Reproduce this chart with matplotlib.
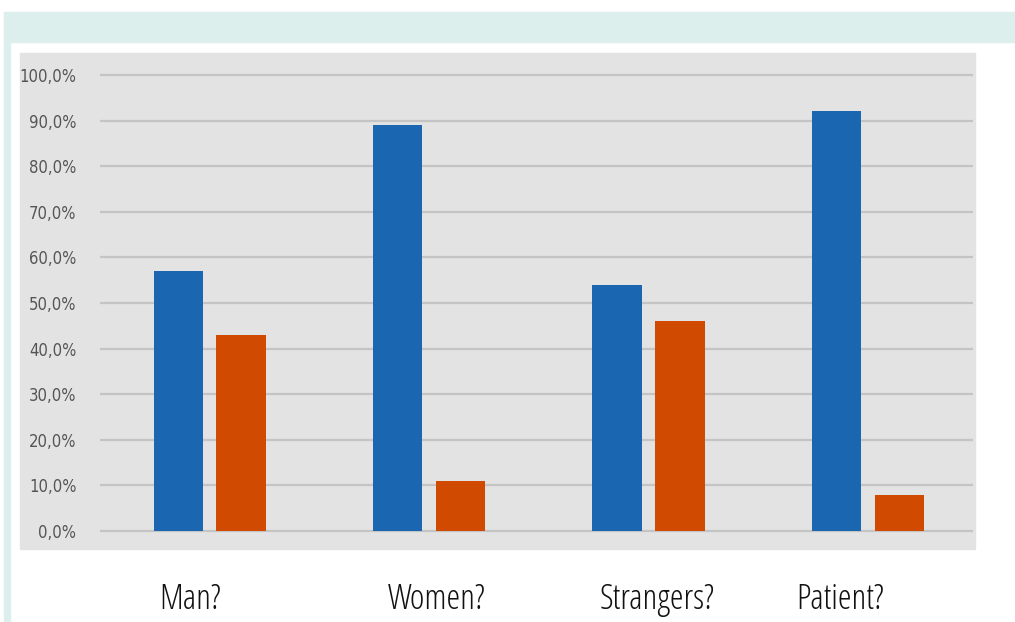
import matplotlib

matplotlib.use("Agg")

import matplotlib.pyplot as plt  # noqa: E402
from matplotlib.patches import Rectangle  # noqa: E402
import numpy as np  # noqa: E402

# data
categories = ["Man?", "Women?", "Strangers?", "Patient?"]
yes_pct = [57.1, 89.0, 54.0, 92.1]
no_pct = [42.9, 11.0, 46.0, 7.9]
y_ticks = [0, 10, 20, 30, 40, 50, 60, 70, 80, 90, 100]
y_tick_labels = [f"{v},0%" for v in y_ticks]

BLUE = "#1b66b1"
ORANGE = "#d04a02"
PANEL = "#e3e3e3"
TEAL = "#dcefed"
GRID = "#c4c4c4"

W, H = 1015, 622
plt.rcParams["font.family"] = ["DejaVu Sans"]

fig = plt.figure(figsize=(W / 100, H / 100), dpi=100)


def px_rect(x0, y0, x1, y1, color):
    # rectangle in pixel coords (origin top-left) -> figure fraction
    fig.patches.append(Rectangle(
        (x0 / W, 1 - y1 / H), (x1 - x0) / W, (y1 - y0) / H,
        transform=fig.transFigure, color=color, zorder=-5,
    ))


px_rect(4, 12, W, 42, TEAL)
px_rect(4, 42, 10, H, TEAL)
px_rect(20, 53, 975, 549, PANEL)

# axes: x 100..973 px, y 0%->531 px, 100%->75 px, ylim padded by 2 units
ppu = (531 - 75) / 100
top_px = 75 - 2 * ppu
bot_px = 531 + 2 * ppu
ax = fig.add_axes([100 / W, 1 - bot_px / H, 873 / W, (bot_px - top_px) / H])
ax.set_facecolor("none")
ax.set_ylim(-2, 102)
ax.set_xlim(-0.5, len(categories) - 0.52)

x = np.arange(len(categories))
bw = 0.225
ax.bar(x - 0.1435, yes_pct, bw, color=BLUE, zorder=3)
ax.bar(x + 0.1435, no_pct, bw, color=ORANGE, zorder=3)

for v in y_ticks:
    ax.axhline(v, color=GRID, lw=1.6, zorder=1)

ax.set_yticks(y_ticks)
ax.set_yticklabels(y_tick_labels, fontsize=12, color="#555555",
                   fontstretch="condensed")
ax.tick_params(axis="y", length=0, pad=17)
ax.set_xticks([])
for s in ax.spines.values():
    s.set_visible(False)

# category labels sit below the panel (~600 px), slightly off the group centres
label_shift = [-0.09, 0.035, 0.04, -0.125]
trans = matplotlib.transforms.blended_transform_factory(ax.transData,
                                                        fig.transFigure)
for i, (name, dx) in enumerate(zip(categories, label_shift)):
    ax.text(i + dx, 1 - 600 / H, name, transform=trans,
            ha="center", va="center", fontsize=25, color="#111111",
            family="Open Sans", fontstretch="condensed", fontweight=300)

fig.savefig("out.png", dpi=100)
